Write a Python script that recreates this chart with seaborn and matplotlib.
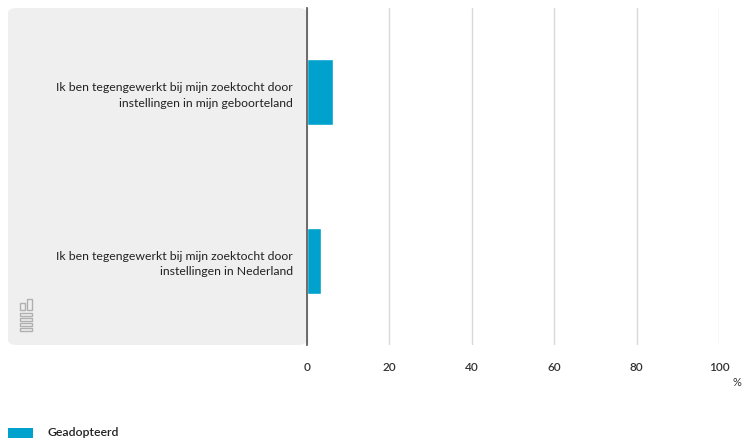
import numpy as np
import pandas as pd
import matplotlib.pyplot as plt
import seaborn as sns
from matplotlib.patches import FancyBboxPatch, Rectangle

categories = [
    'Ik ben tegengewerkt bij mijn zoektocht door\ninstellingen in mijn geboorteland',
    'Ik ben tegengewerkt bij mijn zoektocht door\ninstellingen in Nederland',
]
values = [6.3, 3.4]
series = 'Geadopteerd'
ticks = [0, 20, 40, 60, 80, 100]

df = pd.DataFrame({'label': categories, 'pct': values, 'groep': series})

sns.set_theme(style='white')
plt.rcParams['font.family'] = ['Lato', 'DejaVu Sans']

fig = plt.figure(figsize=[7.46, 4.41], dpi=100)

# grey label panel behind the category names
panel = FancyBboxPatch((8 / 746, 96 / 441), 299 / 746, 337 / 441,
                       boxstyle='round,pad=0,rounding_size=0.012',
                       transform=fig.transFigure, facecolor='#efefef',
                       edgecolor='none', zorder=-5)
fig.patches.append(panel)

ax = fig.add_axes([307 / 746, 96 / 441, 412 / 746, 337 / 441])
ax.set_facecolor('none')
ax.set_zorder(2)

sns.barplot(data=df, x='pct', y='label', hue='groep', orient='h',
            palette=['#00a1cd'], width=0.39, ax=ax, legend=False,
            saturation=1)

ax.set_xlim(0, 100)
ax.set_xticks(ticks)
ax.set_xticklabels([str(t) for t in ticks], color='#333333', fontsize=8.5,
                   fontweight='semibold')
ax.xaxis.grid(True, color='#d9d9d9', linewidth=1)
ax.set_axisbelow(True)
ax.tick_params(axis='x', length=6, color='#d9d9d9', pad=6)
ax.tick_params(axis='y', length=0, pad=10)
for lab in ax.get_yticklabels():
    lab.set_fontsize(8.8)
    lab.set_color('#222222')
    lab.set_linespacing(1.5)

for side in ['top', 'right', 'bottom']:
    ax.spines[side].set_visible(False)
ax.spines['left'].set_color('#555555')
ax.spines['left'].set_linewidth(1.2)
ax.set_xlabel('')
ax.set_ylabel('')

fig.text(737 / 746, 1 - 383 / 441, '%', ha='center', va='center',
         fontsize=8, color='#333333')

# simple cbs logo mark in the panel corner
logo = '#b0b0b0'
for (x0, y0, w, h) in [(20, 303, 5, 7), (27, 299, 5, 11), (20, 313, 12, 3),
                       (20, 318, 12, 3), (20, 323, 12, 3), (20, 328, 12, 3)]:
    fig.patches.append(Rectangle((x0 / 746, 1 - (y0 + h) / 441), w / 746, h / 441,
                                 transform=fig.transFigure, facecolor='none',
                                 edgecolor=logo, linewidth=1.0, zorder=1))

# legend
fig.patches.append(Rectangle((8 / 746, 1 - 438 / 441), 25 / 746, 10 / 441,
                             transform=fig.transFigure, facecolor='#00a1cd',
                             edgecolor='none'))
fig.text(48 / 746, 1 - 433 / 441, series, ha='left', va='center',
         fontsize=8.8, color='#222222', fontweight='semibold')

fig.savefig('out.png', dpi=100)
